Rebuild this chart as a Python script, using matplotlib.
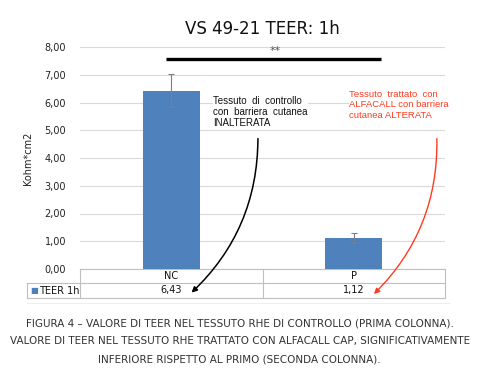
import matplotlib
matplotlib.use("Agg")
import matplotlib.pyplot as plt
from matplotlib.transforms import blended_transform_factory

categories = ["NC", "P"]
values = [6.43, 1.12]
errors = [0.60, 0.17]
series_name = "TEER 1h"
yticks = [0, 1, 2, 3, 4, 5, 6, 7, 8]
sig_level = 7.55
title = "VS 49-21 TEER: 1h"
ylabel = "Kohm*cm2"
note_black = "Tessuto  di  controllo\ncon  barriera  cutanea\nINALTERATA"
note_red = "Tessuto  trattato  con\nALFACALL con barriera\ncutanea ALTERATA"
caption = ["FIGURA 4 – VALORE DI TEER NEL TESSUTO RHE DI CONTROLLO (PRIMA COLONNA).",
           "VALORE DI TEER NEL TESSUTO RHE TRATTATO CON ALFACALL CAP, SIGNIFICATIVAMENTE",
           "INFERIORE RISPETTO AL PRIMO (SECONDA COLONNA)."]

W, H = 484, 376
fig = plt.figure(figsize=(W / 100, H / 100), dpi=100)
ax = fig.add_axes([80 / W, (H - 269) / H, (445 - 80) / W, (269 - 47) / H])

x = list(range(len(categories)))
bar_color = "#4F81BD"
ax.bar(x, values, width=0.31, color=bar_color, zorder=3)
ax.errorbar(x, values, yerr=errors, fmt="none", ecolor="#7F7F7F",
            elinewidth=0.8, capsize=2, capthick=0.8, zorder=4)

ax.set_xlim(-0.5, len(categories) - 0.5)
ax.set_ylim(0, 8)
ax.set_yticks(yticks)
ax.set_yticklabels([f"{v:.2f}".replace(".", ",") for v in yticks],
                   fontsize=7, color="#222222", family="DejaVu Sans")
ax.tick_params(axis="y", length=0, pad=10)
ax.set_xticks([])
ax.grid(axis="y", color="#D9D9D9", linewidth=0.8, zorder=0)
ax.set_axisbelow(True)
for s in ax.spines.values():
    s.set_visible(False)
ax.set_ylabel(ylabel, fontsize=7, color="#222222", labelpad=8)
ax.set_title(title, fontsize=12, color="#111111", pad=9)

# significance bar
ax.plot([-0.03, 1.15], [sig_level, sig_level], color="black", lw=2.4,
        solid_capstyle="butt", zorder=5)
ax.text(0.57, sig_level + 0.13, "**", ha="center", va="bottom",
        fontsize=8, color="#555555")

# data table below axes
tr = blended_transform_factory(ax.transData, ax.transAxes)
edge = "#BFBFBF"
row1 = -14 / 222
row2 = -29 / 222
left_lab = -0.79
xr = len(categories) - 0.5
lk = dict(transform=tr, clip_on=False, color=edge, lw=0.8)
ax.plot([-0.5, xr], [0, 0], **lk)
ax.plot([left_lab, xr], [row1, row1], **lk)
ax.plot([left_lab, xr], [row2, row2], **lk)
ax.plot([left_lab, left_lab], [row1, row2], **lk)
for b in [i - 0.5 for i in range(len(categories) + 1)]:
    ax.plot([b, b], [0, row2], **lk)
ax.plot([left_lab, xr + 0.03], [-34 / 222, -34 / 222], transform=tr,
        clip_on=False, color="#EEEEEE", lw=0.8)
for i, (c, v) in enumerate(zip(categories, values)):
    ax.text(i, row1 / 2, c, transform=tr, ha="center", va="center",
            fontsize=7, color="#111111")
    ax.text(i, (row1 + row2) / 2, f"{v:.2f}".replace(".", ","), transform=tr,
            ha="center", va="center", fontsize=7, color="#111111")
ax.text(left_lab + 0.02, (row1 + row2) / 2, "■", transform=tr, ha="left",
        va="center", fontsize=6, color=bar_color)
ax.text(left_lab + 0.065, (row1 + row2) / 2, series_name, transform=tr,
        ha="left", va="center", fontsize=7, color="#111111")

# annotations
ax.text(0.23, 6.25, note_black, ha="left", va="top", fontsize=7,
        family="Liberation Sans", color="#111111", linespacing=1.15,
        bbox=dict(facecolor="white", edgecolor="none", pad=0.5), zorder=6)
ax.text(0.975, 6.45, note_red, ha="left", va="top", fontsize=6.8,
        family="Liberation Sans", color="#FF3B1F", linespacing=1.2,
        bbox=dict(facecolor="white", edgecolor="none", pad=0.5), zorder=6)

ax.annotate("", xy=(0.1, row2 * 0.88), xycoords=tr,
            xytext=(0.475, 4.8), textcoords="data",
            arrowprops=dict(arrowstyle="-|>", color="black", lw=1.1,
                            mutation_scale=8,
                            connectionstyle="arc3,rad=-0.22"), zorder=7)
ax.annotate("", xy=(1.1, row2 * 0.93), xycoords=tr,
            xytext=(1.455, 4.8), textcoords="data",
            arrowprops=dict(arrowstyle="-|>", color="#FF3B1F", lw=1.0,
                            mutation_scale=8,
                            connectionstyle="arc3,rad=-0.22"), zorder=7)

# caption
for k, line in enumerate(caption):
    fig.text(0.495, 1 - (323 + 18 * k) / H, line, ha="center", va="center",
             fontsize=7.5, color="#333333", family="DejaVu Sans")

fig.savefig("out.png", dpi=100)
